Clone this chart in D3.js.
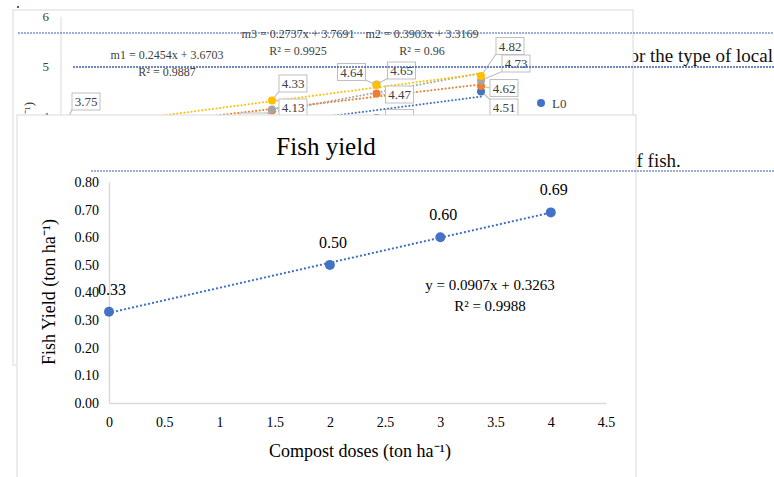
<!DOCTYPE html>
<html lang="en">
<head>
<meta charset="utf-8">
<title>Fish yield</title>
<script src="https://cdn.jsdelivr.net/npm/d3@7"></script>
<style>
  body { margin: 0; background: #fff; }
  svg { display: block; font-family: "Liberation Serif", serif; }
</style>
</head>
<body>
<script>
// ---- data: chart behind (partly covered) ----
var bgX = [0, 2, 3, 4];
var bgSeries = ["L0", "L1", "L2", "L3"];
var bgL0 = [3.35, 3.90, 3.98, 4.51];
var bgL1 = [3.67, 4.13, 4.47, 4.62];
var bgL2 = [3.25, 4.15, 4.65, 4.73];
var bgL3 = [3.75, 4.33, 4.64, 4.82];
var bgYTicks = [4, 5, 6];
var bgEquations = ["m1 = 0.2454x + 3.6703", "m3 = 0.2737x + 3.7691", "m2 = 0.3903x + 3.3169"];
var bgRsq = ["R² = 0.9887", "R² = 0.9925", "R² = 0.96"];

// ---- data: Fish yield chart ----
var doses = [0, 2, 3, 4];
var fishYield = [0.33, 0.50, 0.60, 0.69];
var yTicks = [0, 0.1, 0.2, 0.3, 0.4, 0.5, 0.6, 0.7, 0.8];
var xTicks = [0, 0.5, 1, 1.5, 2, 2.5, 3, 3.5, 4, 4.5];
var trendSlope = 0.0907, trendIntercept = 0.3263;

var w = 774, h = 477;
var colors = ["#4472C4", "#ED7D31", "#A5A5A5", "#FFC000"];

var svg = d3.select("body").append("svg").attr("width", w).attr("height", h);

// document text lying behind the charts
svg.append("text").attr("x", 773).attr("y", 62).attr("text-anchor", "end")
  .attr("font-size", 19).attr("fill", "#111").text("for the type of local");
svg.append("text").attr("x", 627).attr("y", 167)
  .attr("font-size", 19).attr("fill", "#111").text("of fish.");

// ---------- background chart ----------
var bg = svg.append("g");
bg.append("rect").attr("x", 13).attr("y", 10).attr("width", 620).attr("height", 355)
  .attr("fill", "#fff").attr("stroke", "#d9d9d9");

var xB = d3.scaleLinear().domain([0, 4]).range([63, 481]);
var yB = d3.scaleLinear().domain([4, 6]).range([117, 17]);

bg.append("line").attr("x1", 61).attr("x2", 61).attr("y1", yB(6)).attr("y2", 360)
  .attr("stroke", "#d9d9d9");
bg.selectAll(".bgtick").data(bgYTicks).enter().append("text")
  .attr("x", 49).attr("y", function(d) { return yB(d) + 4; })
  .attr("text-anchor", "end").attr("font-size", 13).attr("fill", "#404040")
  .text(function(d) { return d; });
bg.append("text").attr("transform", "translate(33,102) rotate(-90)")
  .attr("text-anchor", "end").attr("font-size", 13).attr("fill", "#404040")
  .text("Dissolved oxygen (mg L⁻¹)");

var bgData = [bgL0, bgL1, bgL2, bgL3];

// linear trendlines (least squares over each series)
bgData.forEach(function(vals, i) {
  var mx = d3.mean(bgX), my = d3.mean(vals);
  var sxy = d3.sum(bgX, function(xv, k) { return (xv - mx) * (vals[k] - my); });
  var sxx = d3.sum(bgX, function(xv) { return (xv - mx) * (xv - mx); });
  var b = sxy / sxx, a = my - b * mx;
  bg.append("line")
    .attr("x1", xB(0)).attr("y1", yB(a))
    .attr("x2", xB(4)).attr("y2", yB(a + b * 4))
    .attr("stroke", colors[i]).attr("stroke-width", 2)
    .attr("stroke-dasharray", "0.1,3.5").attr("stroke-linecap", "round");
});

// callout label offsets (box centre relative to point); null = label not shown
var bgLabelOffsets = [
  [null, null, [23, 0], [23, 16]],
  [null, [21, -3], [23, 1], [23, 2]],
  [null, [-18, 12], [25, -14], [35, -17]],
  [[23, -28], [21, -17], [-25, -13], [29, -30]]
];

bgData.forEach(function(vals, i) {
  var g = bg.append("g");
  vals.forEach(function(v, k) {
    var off = bgLabelOffsets[i][k];
    if (!off) return;
    var px = xB(bgX[k]), py = yB(v);
    var cx = px + off[0], cy = py + off[1];
    var tx = cx + (off[0] > 0 ? -14 : 14) * (Math.abs(off[0]) > 14 ? 1 : 0);
    var ty = cy + (off[1] > 0 ? -8 : 8) * (Math.abs(off[1]) > 8 ? 1 : 0);
    g.append("line").attr("x1", px).attr("y1", py).attr("x2", tx).attr("y2", ty)
      .attr("stroke", "#bfbfbf").attr("stroke-width", 1.2);
    g.append("rect").attr("x", cx - 14).attr("y", cy - 8.5).attr("width", 28).attr("height", 17)
      .attr("fill", "#fff").attr("stroke", "#bfbfbf");
    g.append("text").attr("x", cx).attr("y", cy + 4.5).attr("text-anchor", "middle")
      .attr("font-size", 13).attr("fill", "#404040").text(v.toFixed(2));
  });
  g.selectAll("circle").data(vals).enter().append("circle")
    .attr("cx", function(d, k) { return xB(bgX[k]); })
    .attr("cy", function(d) { return yB(d); })
    .attr("r", 4).attr("fill", colors[i]);
});

// trendline equations
var eqPos = [[167, 59], [298, 38], [422, 38]];
bgEquations.forEach(function(t, i) {
  bg.append("text").attr("x", eqPos[i][0]).attr("y", eqPos[i][1]).attr("text-anchor", "middle")
    .attr("font-size", 12).attr("fill", "#404040").text(t);
  bg.append("text").attr("x", eqPos[i][0]).attr("y", eqPos[i][1] + 17).attr("text-anchor", "middle")
    .attr("font-size", 12).attr("fill", "#404040").text(bgRsq[i]);
});

// legend (only the first entry is left uncovered)
bg.append("circle").attr("cx", 541).attr("cy", 103).attr("r", 4).attr("fill", colors[0]);
bg.append("text").attr("x", 552).attr("y", 108).attr("font-size", 13)
  .attr("fill", "#404040").text(bgSeries[0]);

// ---------- Fish yield chart ----------
var fg = svg.append("g");
fg.append("rect").attr("x", 17).attr("y", 115).attr("width", 619).attr("height", 380)
  .attr("fill", "#fff").attr("stroke", "#d9d9d9");

var x = d3.scaleLinear().domain([0, 4.5]).range([109, 606]);
var y = d3.scaleLinear().domain([0, 0.8]).range([403, 182]);

fg.append("text").attr("x", 326).attr("y", 155).attr("text-anchor", "middle")
  .attr("font-size", 25).attr("fill", "#000").text("Fish yield");

var yAxis = d3.axisLeft(y).tickValues(yTicks).tickSize(0).tickPadding(10)
  .tickFormat(d3.format(".2f"));
var xAxis = d3.axisBottom(x).tickValues(xTicks).tickSize(0).tickPadding(14)
  .tickFormat(function(d) { return d; });

var gy = fg.append("g").attr("transform", "translate(109,0)").call(yAxis);
var gx = fg.append("g").attr("transform", "translate(0,403)").call(xAxis);
[gx, gy].forEach(function(g) {
  g.select(".domain").attr("stroke", "#d9d9d9").attr("stroke-width", 1.5);
  g.selectAll("text").attr("font-family", "Liberation Serif, serif")
    .attr("font-size", 14).attr("fill", "#000");
});

fg.append("text").attr("transform", "translate(55,292) rotate(-90)")
  .attr("text-anchor", "middle").attr("font-size", 18).text("Fish Yield (ton ha⁻¹)");
fg.append("text").attr("x", 360).attr("y", 457).attr("text-anchor", "middle")
  .attr("font-size", 18).text("Compost doses (ton ha⁻¹)");

// trendline
fg.append("line")
  .attr("x1", x(d3.min(doses))).attr("y1", y(trendIntercept + trendSlope * d3.min(doses)))
  .attr("x2", x(d3.max(doses))).attr("y2", y(trendIntercept + trendSlope * d3.max(doses)))
  .attr("stroke", "#4472C4").attr("stroke-width", 2.2)
  .attr("stroke-dasharray", "0.1,4").attr("stroke-linecap", "round");

fg.selectAll(".pt").data(fishYield).enter().append("circle")
  .attr("cx", function(d, i) { return x(doses[i]); })
  .attr("cy", function(d) { return y(d); })
  .attr("r", 5).attr("fill", "#4472C4");

fg.selectAll(".lbl").data(fishYield).enter().append("text")
  .attr("x", function(d, i) { return x(doses[i]) + 3; })
  .attr("y", function(d) { return y(d) - 17; })
  .attr("text-anchor", "middle").attr("font-size", 16).attr("fill", "#000")
  .text(function(d) { return d.toFixed(2); });

fg.append("text").attr("x", 490).attr("y", 290).attr("text-anchor", "middle")
  .attr("font-size", 15).text("y = " + trendSlope + "x + " + trendIntercept);
fg.append("text").attr("x", 490).attr("y", 311).attr("text-anchor", "middle")
  .attr("font-size", 15).text("R² = " + 0.9988);

// blue proofing underlines over the page
var lines = [[18, 33, 1], [73, 67, 1.6], [91, 171, 1]];
lines.forEach(function(l) {
  svg.append("line").attr("x1", l[0]).attr("x2", w).attr("y1", l[1]).attr("y2", l[1])
    .attr("stroke", "#3a5fb0").attr("stroke-width", l[2]).attr("stroke-dasharray", "2,1");
});
svg.append("rect").attr("x", 17).attr("y", 6).attr("width", 2).attr("height", 2).attr("fill", "#3a5fb0");
</script>
</body>
</html>
